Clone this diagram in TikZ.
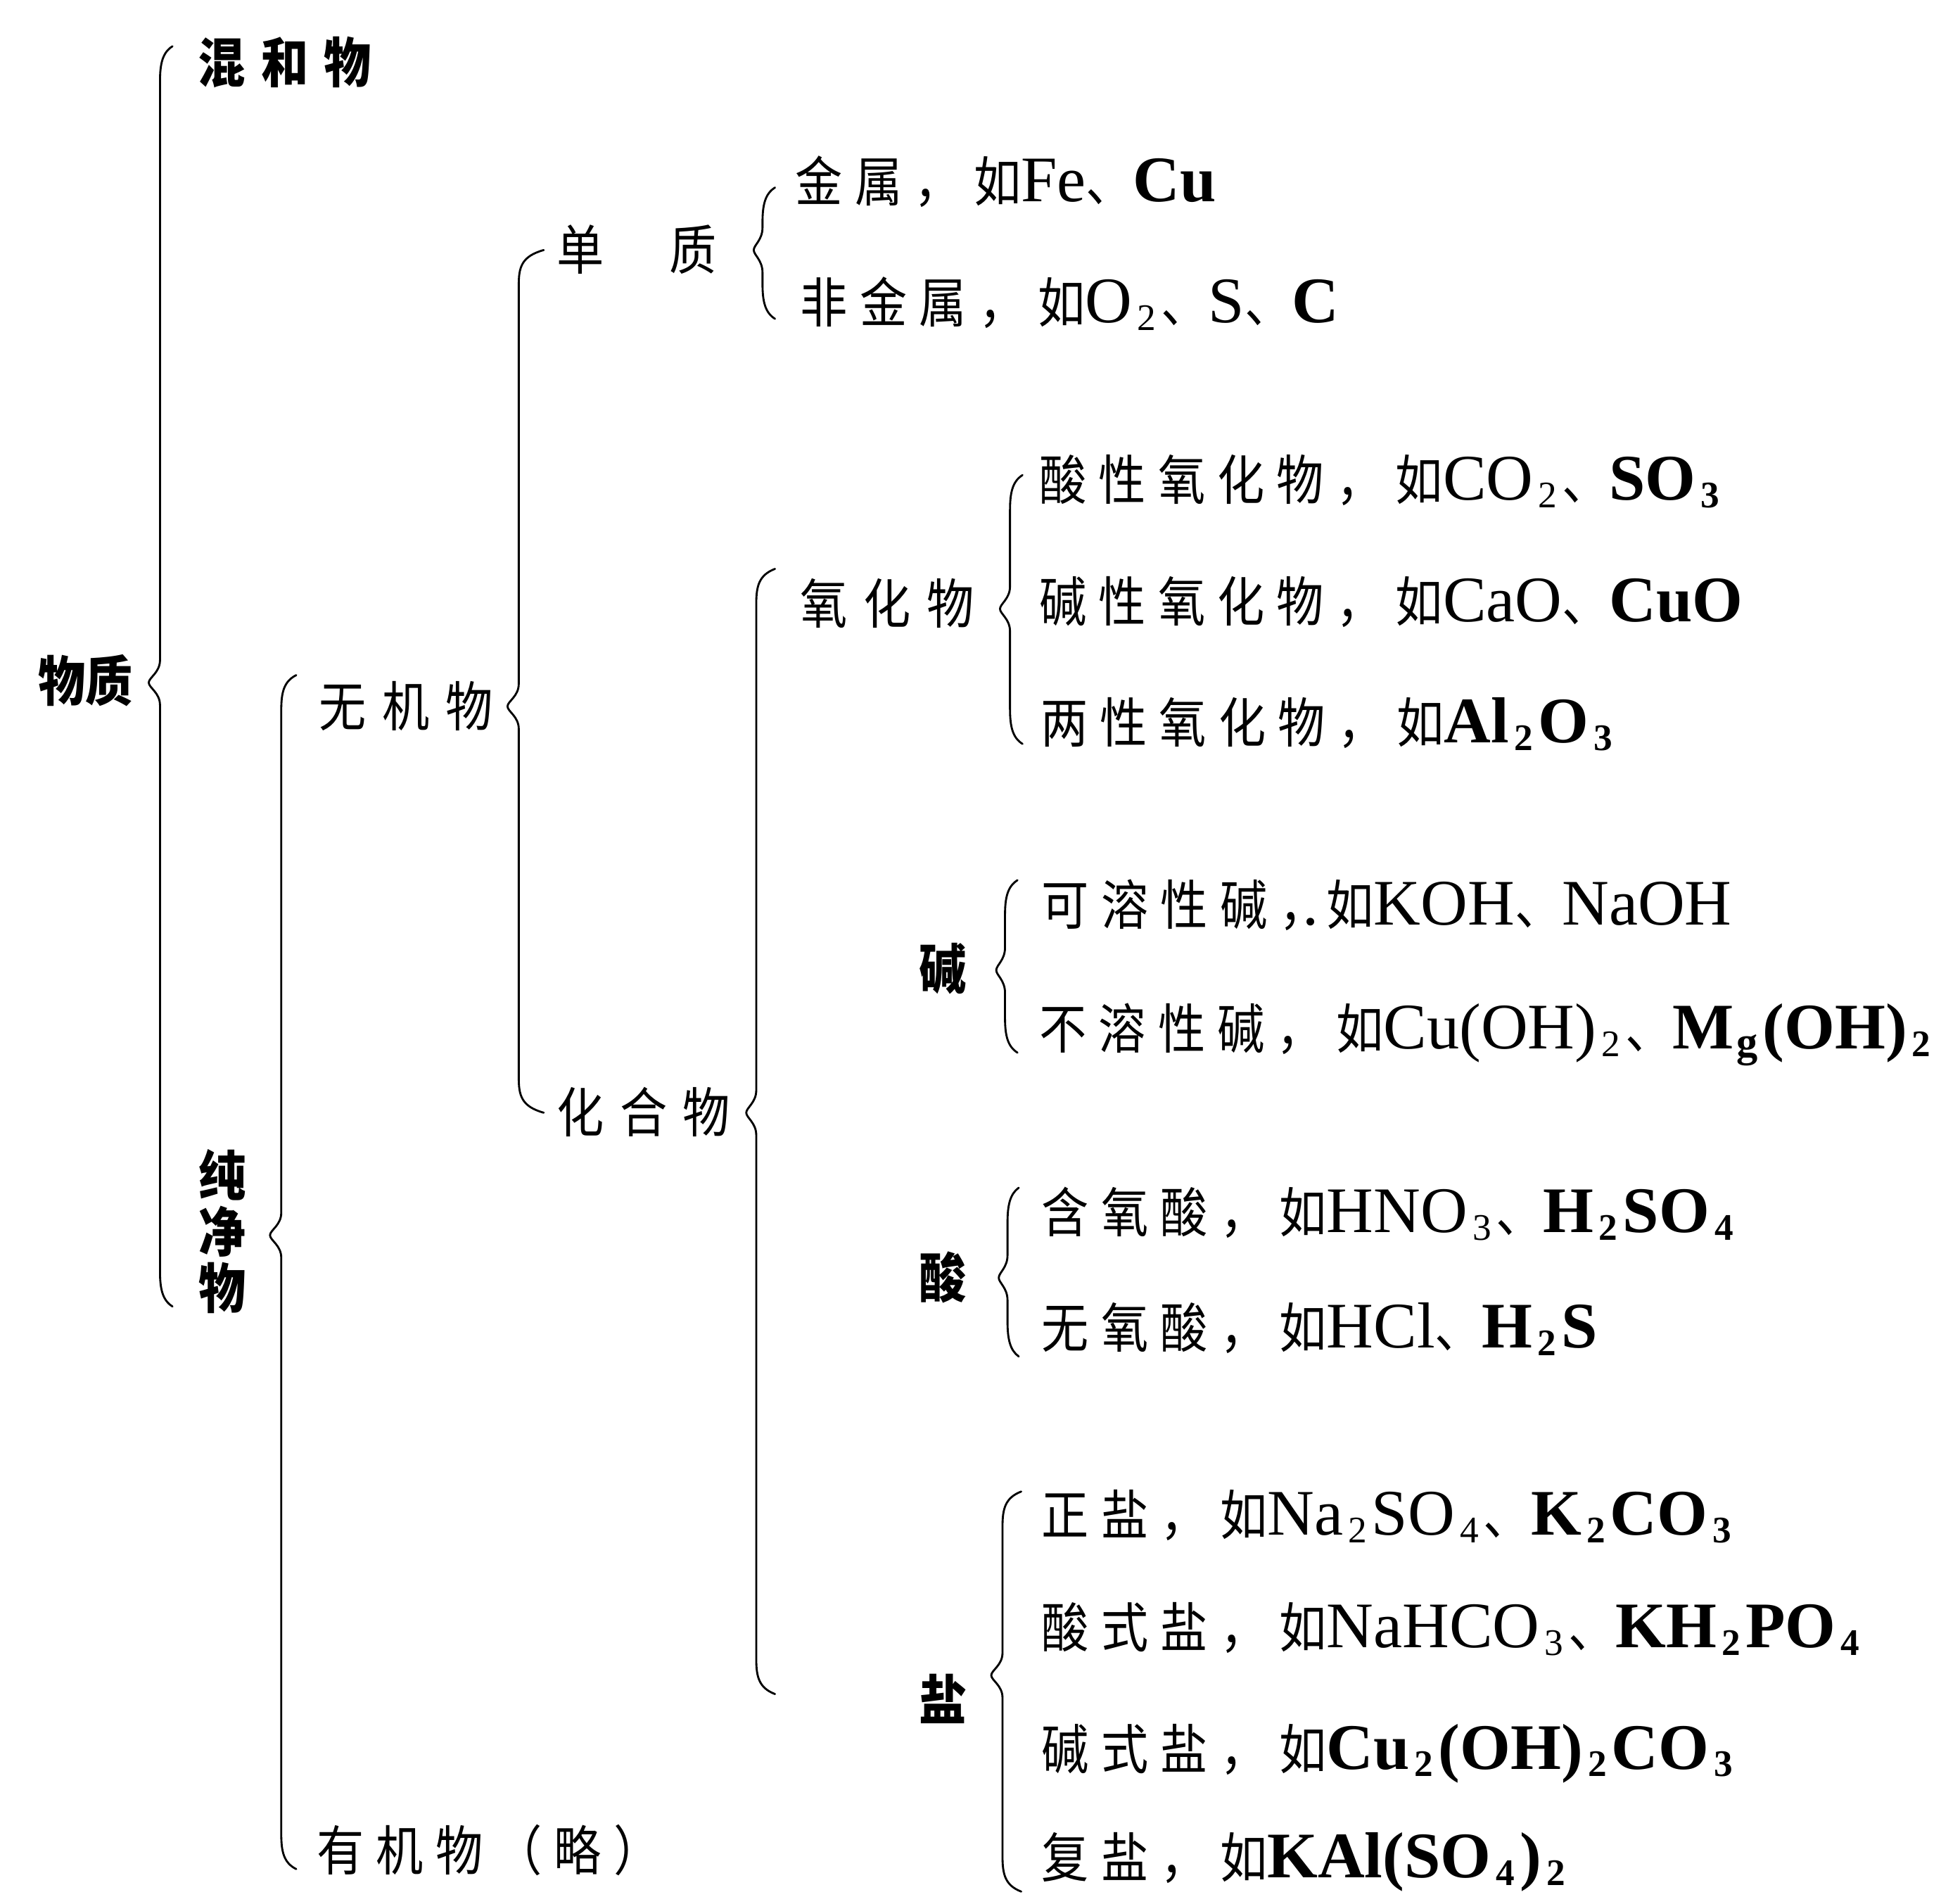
\documentclass[tikz,border=0pt]{standalone}
\usepackage{fontspec}
\setmainfont{Liberation Serif}
\newfontfamily\cjk[FakeStretch=0.88,LetterSpace=22.5]{Noto Sans CJK SC}
\newfontfamily\cjkw[FakeStretch=0.88,LetterSpace=29.5]{Noto Sans CJK SC}
\newfontfamily\cjkn[FakeStretch=0.88]{Noto Sans CJK SC}
\newfontfamily\latf{Liberation Serif}
\newcommand\lt[1]{{\latf\fontsize{26}{26}\selectfont #1}}
\newcommand\ltb[1]{{\latf\bfseries\fontsize{26}{26}\selectfont #1}}
\newcommand\sbs[1]{\hspace{2pt}\raisebox{-3pt}{\fontsize{15}{15}\selectfont #1}\hspace{2pt}}
\newcommand\mybrace[6]{%
  \draw[brc] (#1+#5,#2) .. controls (#1+2,#2+5) and (#1,#2+14) .. (#1,#2+28)
    -- (#1,#3-18) .. controls (#1,#3-8) and (#1-#6,#3-4) .. (#1-#6,#3)
    .. controls (#1-#6,#3+4) and (#1,#3+8) .. (#1,#3+18)
    -- (#1,#4-28) .. controls (#1,#4-14) and (#1+2,#4-5) .. (#1+#5,#4);}
\tikzset{
  lbl/.style={inner sep=0pt, anchor=base west, font=\cjk\fontsize{21.5}{21.5}\selectfont},
  wlbl/.style={lbl, font=\cjkw\fontsize{21.5}{21.5}\selectfont},
  blbl/.style={lbl, font=\cjk\bfseries\fontsize{21.5}{21.5}\selectfont},
  brc/.style={line width=0.8pt, line cap=round, line join=round}
}
\begin{document}
\begin{tikzpicture}[x=0.5pt,y=-0.5pt]
\fill[white] (0,0) rectangle (1568,1517);
\useasboundingbox (0,0) rectangle (1568,1517);

% labels
\node[blbl, font=\cjkw\bfseries\fontsize{21.5}{21.5}\selectfont] (hunhe) at (158,66) {混和物};
\node[lbl, font=\cjkn\bfseries\fontsize{21.5}{21.5}\selectfont] (wuzhi) at (30,561) {物质};
\node[inner sep=0pt, align=center, font=\cjkn\bfseries\fontsize{21.5}{22.5}\selectfont] (chun) at (178,985) {纯\\净\\物};
\node[wlbl] (wuji) at (255,581) {无机物};
\node[lbl] (youji) at (253,1496) {有机物（略）};
\node[lbl] (danzhi) at (445,216) {单\hspace{26pt}质};
\node[wlbl] (huahe) at (445,906) {化合物};
\node[lbl] (jinshu) at (636,161) {金属，如\lt{Fe}、\ltb{Cu}};
\node[lbl] (feijin) at (640,258) {非金属，如\lt{O\sbs{2}}、\lt{S}、\ltb{C}};
\node[wlbl] (yanghua) at (640,499) {氧化物};
\node[lbl] (suanyang) at (831,400) {酸性氧化物，如\lt{CO\sbs{2}}、\ltb{SO\sbs{3}}};
\node[lbl] (jianyang) at (831,497) {碱性氧化物，如\lt{CaO}、\ltb{CuO}};
\node[lbl] (liangyang) at (832,594) {两性氧化物，如\ltb{Al\sbs{2}O\sbs{3}}};
\node[blbl] (jian) at (735,791) {碱};
\node[lbl] (kerong) at (833,740) {可溶性碱，\llap{\lt{.}\hspace{3pt}}如\lt{KOH}、\lt{NaOH}};
\node[lbl] (burong) at (831,839) {不溶性碱，如\lt{Cu(OH)\sbs{2}}、\ltb{M\hspace{1pt}\raisebox{-3pt}{\fontsize{17}{17}\selectfont g}\hspace{2pt}(OH)\sbs{2}}};
\node[blbl] (suan) at (735,1038) {酸};
\node[lbl] (hanyang) at (833,986) {含氧酸，如\lt{HNO\sbs{3}}、\ltb{H\sbs{2}SO\sbs{4}}};
\node[lbl] (wuyang) at (833,1078) {无氧酸，如\lt{HCl}、\ltb{H\sbs{2}S}};
\node[blbl] (yan) at (735,1376) {盐};
\node[lbl] (zheng) at (833,1228) {正盐，如\lt{Na\sbs{2}SO\sbs{4}}、\ltb{K\sbs{2}CO\sbs{3}}};
\node[lbl] (suanshi) at (833,1318) {酸式盐，如\lt{NaHCO\sbs{3}}、\ltb{KH\sbs{2}PO\sbs{4}}};
\node[lbl] (jianshi) at (833,1415) {碱式盐，如\ltb{Cu\sbs{2}(OH)\sbs{2}CO\sbs{3}}};
\node[lbl] (fu) at (833,1502) {复盐，如\ltb{KAl(SO\sbs{4})\sbs{2}}};

% braces
\mybrace{128}{37}{546}{1045}{10}{9}
\mybrace{225}{540}{988}{1495}{12}{9}
\mybrace{415}{200}{565}{890}{20}{9}
\mybrace{610}{150}{200}{255}{10}{7}
\mybrace{605}{455}{890}{1355}{15}{8}
\mybrace{808}{380}{487}{595}{10}{8}
\mybrace{804}{704}{776}{842}{10}{7}
\mybrace{806}{950}{1022}{1085}{9}{7}
\mybrace{802}{1193}{1340}{1513}{15}{9}
\end{tikzpicture}
\end{document}
